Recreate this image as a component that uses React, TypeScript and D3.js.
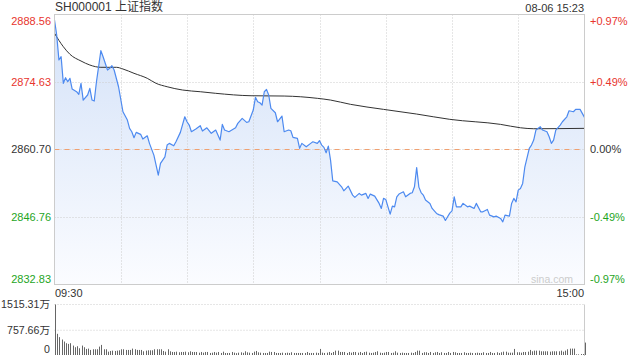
import React from "react";
import * as d3 from "d3";

// ---- data ----
const PREV_CLOSE = 2860.7;
const Y_TICKS = [2888.56, 2874.63, 2860.7, 2846.76, 2832.83];
const PCT_TICKS = ["+0.97%", "+0.49%", "0.00%", "-0.49%", "-0.97%"];
const TIME_LABELS = ["09:30", "15:00"];
const VOL_TICKS = ["1515.31万", "757.66万", "0"];
const VOL_MAX = 1515.31;

// trading-minute index (0 = 09:30, 240 = 15:00)
const priceMinutes = [
  0, 1, 2, 3, 4, 5, 6, 7, 8, 10, 11, 12, 13, 15, 16, 17, 18, 19, 21, 22, 24, 25, 26, 27, 29,
  31, 33, 34, 35, 36, 37, 39, 40, 42, 43, 45, 46, 47, 48, 50, 51, 52, 54, 55, 57, 59, 60, 61,
  62, 64, 66, 67, 69, 71, 73, 75, 76, 77, 79, 82, 83, 85, 87, 88, 90, 91, 92, 93, 94, 95, 96,
  97, 98, 100, 101, 103, 104, 106, 107, 108, 110, 111, 112, 114, 116, 117, 119, 120, 121, 122,
  123, 124, 125, 126, 128, 130, 131, 133, 135, 136, 138, 139, 141, 142, 143, 145, 147, 148,
  149, 150, 152, 153, 154, 155, 156, 158, 159, 161, 162, 163, 164, 165, 166, 167, 168, 170,
  171, 173, 174, 176, 177, 179, 180, 181, 182, 184, 185, 187, 188, 190, 191, 193, 194, 196,
  197, 199, 200, 202, 203, 204, 206, 207, 208, 209, 210, 211, 212, 213, 215, 216, 217, 218,
  220, 221, 223, 224, 225, 226, 227, 229, 230, 232, 233, 235, 236, 238, 239, 240,
];
const prices = [
  2887.43, 2884.33, 2879.17, 2879.85, 2874.35, 2875.51, 2874.68, 2875.39, 2873.18, 2872.62,
  2872.08, 2874.35, 2870.9, 2871.94, 2873.32, 2870.9, 2870.7, 2874.68, 2881.09, 2879.85,
  2877.1, 2877.45, 2877.99, 2877.1, 2873.65, 2868.49, 2866.77, 2865.06, 2864.36, 2863.12,
  2864.23, 2863.82, 2862.85, 2863.53, 2861.96, 2859.54, 2857.48, 2855.41, 2857.83, 2859.19,
  2861.61, 2861.96, 2861.46, 2862.29, 2864.23, 2867.45, 2866.42, 2865.74, 2864.36, 2864.91,
  2865.6, 2864.5, 2865.18, 2864.03, 2864.71, 2862.64, 2865.88, 2864.71, 2864.36, 2865.18,
  2866.09, 2867.12, 2866.3, 2866.42, 2868.84, 2871.46, 2870.55, 2870.35, 2869.87, 2872.62,
  2873.11, 2871.94, 2869.19, 2868.28, 2866.42, 2867.6, 2864.36, 2864.71, 2864.56, 2863.2,
  2862.99, 2860.93, 2861.96, 2861.26, 2861.96, 2862.29, 2861.96, 2862.5, 2861.61, 2861.13,
  2860.02, 2861.4, 2858.51, 2854.23, 2854.03, 2852.99, 2852.17, 2853.14, 2851.28, 2850.81,
  2851.63, 2851.28, 2851.63, 2850.6, 2851.49, 2851.07, 2849.57, 2848.53, 2850.6, 2850.39,
  2847.36, 2849.01, 2848.86, 2850.93, 2851.5, 2851.96, 2850.93, 2851.63, 2851.76, 2852.99,
  2856.96, 2852.93, 2851.8, 2851.28, 2850.25, 2849.57, 2848.53, 2847.5, 2847.25, 2846.94,
  2846.05, 2847.56, 2848.04, 2850.93, 2848.86, 2848.86, 2849.57, 2848.86, 2849.01, 2848.53,
  2849.57, 2847.83, 2847.83, 2848.33, 2847.15, 2846.8, 2846.94, 2846.47, 2845.76, 2847.15,
  2846.94, 2849.57, 2850.6, 2849.9, 2852.31, 2852.66, 2853.7, 2857.13, 2860.93, 2861.61,
  2862.64, 2864.71, 2865.39, 2864.71, 2864.36, 2863.32, 2861.96, 2862.64, 2864.71, 2865.74,
  2866.42, 2867.45, 2868.69, 2868.49, 2868.98, 2868.98, 2868.16, 2867.33,
];

const avgMinutes = [0, 4, 7, 12, 16, 21, 28, 31, 36, 42, 46, 51, 58, 66, 73, 89, 104, 119, 125, 134, 149, 164, 179, 202, 211, 217, 240];
const avgPrices = [
  2884.68, 2881.91, 2880.34, 2878.96, 2878.13, 2877.66, 2877.66, 2877.31, 2876.42, 2875.39,
  2874.35, 2873.65, 2872.97, 2872.62, 2872.29, 2871.79, 2871.73, 2871.26, 2870.9, 2870.02,
  2868.98, 2868.01, 2866.92, 2865.88, 2865.18, 2864.98, 2865.06,
];

// volume per trading minute (万)
const volumes = [
  1515, 636, 536, 464, 404, 354, 333, 354, 283, 233,
  263, 202, 283, 233, 182, 192, 152, 172, 172, 172,
  252, 303, 172, 172, 100, 121, 131, 121, 131, 141,
  172, 172, 152, 152, 152, 192, 172, 152, 152, 152,
  111, 131, 141, 141, 141, 172, 172, 172, 172, 121,
  100, 172, 111, 91, 91, 100, 82, 91, 91, 100,
  82, 111, 91, 91, 91, 70, 91, 70, 91, 91,
  61, 70, 91, 70, 91, 61, 100, 61, 61, 61,
  91, 70, 55, 70, 80, 65, 111, 80, 70, 61,
  100, 121, 80, 70, 61, 61, 61, 100, 91, 91,
  61, 61, 61, 70, 61, 70, 61, 82, 61, 61,
  61, 61, 61, 61, 91, 61, 61, 61, 70, 61,
  182, 70, 61, 70, 91, 61, 91, 131, 131, 91,
  91, 91, 61, 91, 70, 91, 91, 70, 91, 61,
  91, 100, 70, 61, 70, 91, 111, 70, 61, 70,
  91, 91, 61, 70, 111, 70, 61, 70, 61, 61,
  61, 70, 61, 91, 131, 131, 61, 82, 82, 61,
  91, 61, 82, 91, 61, 82, 61, 61, 91, 61,
  91, 82, 61, 61, 61, 82, 61, 61, 70, 61,
  61, 70, 61, 61, 82, 61, 61, 91, 61, 61,
  82, 61, 82, 100, 100, 70, 70, 70, 182, 82,
  82, 70, 91, 91, 100, 152, 111, 131, 131, 131,
  111, 111, 111, 111, 100, 111, 111, 111, 111, 131,
  100, 131, 172, 192, 192, 192, 20, 20, 30, 30,
  373,
];

const FONT = "'Liberation Sans', Arial, 'Noto Sans CJK SC', sans-serif";
const RED = "#e8352e";
const GREEN = "#1ea51e";
const TXT = "#333";

export default function App() {
  const L = 54.5, R = 584.5, T = 14.5, B = 284.5;
  const VT = 304.5, VB = 355;
  const x = d3.scaleLinear().domain([0, 240]).range([L, R]);
  const y = d3.scaleLinear().domain([Y_TICKS[4], Y_TICKS[0]]).range([B, T]);
  const vy = d3.scaleLinear().domain([0, VOL_MAX]).range([VB, VT]);

  const pts = priceMinutes.map((m, i) => [m, prices[i]] as [number, number]);
  const line = d3.line<[number, number]>().x((d) => x(d[0])).y((d) => y(d[1]));
  const area = d3
    .area<[number, number]>()
    .x((d) => x(d[0]))
    .y0(B)
    .y1((d) => y(d[1]));
  const avgPts = avgMinutes.map((m, i) => [m, avgPrices[i]] as [number, number]);
  const avgLine = d3
    .line<[number, number]>()
    .x((d) => x(d[0]))
    .y((d) => y(d[1]))
    .curve(d3.curveMonotoneX);

  const vGrid = d3.range(1, 8).map((k) => x(k * 30));
  const tickColor = (v: number) => (v > PREV_CLOSE + 0.001 ? RED : v < PREV_CLOSE - 0.001 ? GREEN : TXT);

  return (
    <svg
      width={640}
      height={360}
      style={{ position: "absolute", left: 0, top: 0, background: "#fff" }}
      fontFamily={FONT}
    >
      <defs>
        <linearGradient id="fillGrad" x1="0" y1="0" x2="0" y2="1">
          <stop offset="0%" stopColor="#d4e2f8" />
          <stop offset="100%" stopColor="#fbfcff" />
        </linearGradient>
      </defs>

      {/* title */}
      <text x={55} y={11} fontSize={12} fill={TXT}>SH000001 上证指数</text>
      <text x={584} y={12} fontSize={11} fill={TXT} textAnchor="end">08-06 15:23</text>

      {/* area + grid */}
      <path d={area(pts) ?? ""} fill="url(#fillGrad)" />
      {vGrid.map((gx, i) => (
        <line key={"vg" + i} x1={Math.round(gx) + 0.5} x2={Math.round(gx) + 0.5} y1={T} y2={B} stroke="#ccc" strokeDasharray="1,2" />
      ))}
      {[Y_TICKS[1], Y_TICKS[3]].map((v, i) => (
        <line key={"hg" + i} x1={L} x2={R} y1={Math.round(y(v)) + 0.5} y2={Math.round(y(v)) + 0.5} stroke="#ccc" strokeDasharray="1,2" />
      ))}
      <line x1={L} x2={R} y1={Math.round(y(PREV_CLOSE)) + 0.5} y2={Math.round(y(PREV_CLOSE)) + 0.5} stroke="#ccc" strokeDasharray="1,2" />
      <line x1={L} x2={R} y1={Math.round(y(PREV_CLOSE)) + 0.5} y2={Math.round(y(PREV_CLOSE)) + 0.5} stroke="#f0a070" strokeDasharray="5,5" />

      <text x={573} y={283} fontSize={10.5} fill="#ccc" textAnchor="end">sina.com</text>

      {/* avg line and price line */}
      <path d={avgLine(avgPts) ?? ""} fill="none" stroke="#333" strokeWidth={1} />
      <path d={line(pts) ?? ""} fill="none" stroke="#4d8af0" strokeWidth={1.2} strokeLinejoin="round" />

      {/* border */}
      <rect x={L} y={T} width={R - L} height={B - T} fill="none" stroke="#ccc" />

      {/* y tick labels */}
      {Y_TICKS.map((v, i) => {
        const yy = i === 0 ? y(v) + 10 : i === 4 ? y(v) - 2 : y(v) + 4;
        return (
          <g key={"yt" + i}>
            <text x={51} y={yy} fontSize={11} fill={tickColor(v)} textAnchor="end">{v.toFixed(2)}</text>
            <text x={590} y={yy} fontSize={11} fill={tickColor(v)}>{PCT_TICKS[i]}</text>
          </g>
        );
      })}

      {/* time labels */}
      <text x={55} y={297} fontSize={11} fill={TXT}>{TIME_LABELS[0]}</text>
      <text x={584} y={297} fontSize={11} fill={TXT} textAnchor="end">{TIME_LABELS[1]}</text>

      {/* volume panel */}
      <line x1={L} x2={R} y1={VT} y2={VT} stroke="#ccc" strokeDasharray="1,2" />
      <line x1={L} x2={R} y1={vy(VOL_MAX / 2) + 0.5} y2={vy(VOL_MAX / 2) + 0.5} stroke="#ccc" strokeDasharray="1,2" />
      <line x1={R} x2={R} y1={VT} y2={VB + 1} stroke="#ccc" />
      {volumes.map((v, i) => {
        const bx = Math.floor(x(i)) + 1;
        return <rect key={"v" + i} x={bx} y={vy(v)} width={1} height={VB - vy(v)} fill="#666" />;
      })}
      <text x={50} y={308} fontSize={10.6} fill={TXT} textAnchor="end">{VOL_TICKS[0]}</text>
      <text x={50} y={334} fontSize={10.6} fill={TXT} textAnchor="end">{VOL_TICKS[1]}</text>
      <text x={50} y={353} fontSize={10.6} fill={TXT} textAnchor="end">{VOL_TICKS[2]}</text>
    </svg>
  );
}
